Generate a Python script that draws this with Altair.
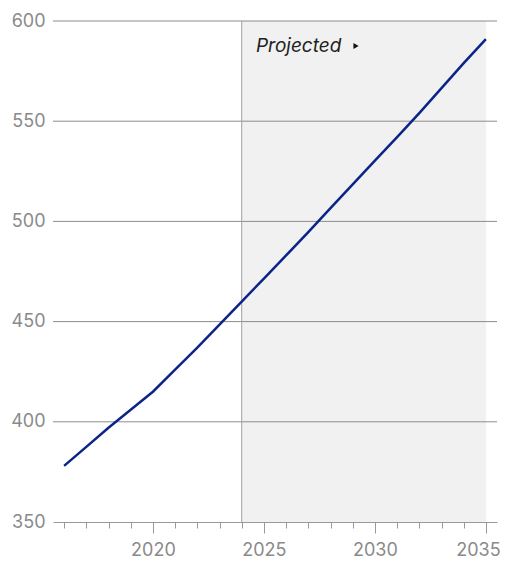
import altair as alt
import pandas as pd

years = list(range(2016, 2036))
values = [378, 387.5, 397, 406, 415, 426, 437, 448.5, 460, 471.5, 483, 494.7,
          506.6, 518.5, 530.3, 542, 554, 566.5, 579, 591]
y_ticks = [350, 400, 450, 500, 550, 600]
proj_start, proj_end = 2024, 2035

df = pd.DataFrame({"year": years, "value": values})
shade = pd.DataFrame({"x": [proj_start], "x2": [proj_end], "y": [350], "y2": [600]})
grid = pd.DataFrame({"v": y_ticks[1:]})
vline = pd.DataFrame({"x": [proj_start], "y": [350], "y2": [600]})
label = pd.DataFrame({"x": [2024.64], "y": [587.5], "t": ["Projected"]})
tri = pd.DataFrame({"x": [2029.15], "y": [587.5]})

FONT = "Inter"
xscale = alt.Scale(domain=[2015.5, 2035.5], nice=False, zero=False)
yscale = alt.Scale(domain=[350, 600], nice=False, zero=False)

xaxis = alt.Axis(
    values=years, title=None, grid=False, domainColor="#999999", domainWidth=1,
    tickColor="#999999", tickWidth=1,
    tickSize={"condition": {"test": "datum.value % 5 === 0", "value": 11}, "value": 6},
    labelExpr="datum.value % 5 === 0 ? toString(datum.value) : ''",
    labelOffset={"condition": {"test": "datum.value === 2035", "value": -8}, "value": 0},
    labelFont=FONT, labelFontSize=18, labelFontWeight=400, labelColor="#8a8a8a",
    labelPadding=8, labelFlush=False, labelOverlap=False, labelBound=False,
    labelBaseline="top",
)
yaxis = alt.Axis(
    values=y_ticks, title=None, grid=False, domain=False, ticks=False,
    labelFont=FONT, labelFontSize=18, labelFontWeight=400, labelColor="#8a8a8a",
    labelPadding=8, labelOverlap=False,
)


def X(f):
    return alt.X(f, scale=xscale, axis=xaxis)


def Y(f):
    return alt.Y(f, scale=yscale, axis=yaxis)


base_rect = alt.Chart(shade).mark_rect(color="#f1f1f1").encode(
    x=X("x:Q"), x2="x2", y=Y("y:Q"), y2="y2",
)
grid_rules = alt.Chart(grid).mark_rule(color="#8c8c8c", strokeWidth=1).encode(
    y=Y("v:Q"),
)
v_rule = alt.Chart(vline).mark_rule(color="#a0a0a0", strokeWidth=1).encode(
    x=X("x:Q"), y=Y("y:Q"), y2="y2",
)
line = alt.Chart(df).mark_line(color="#0c2488", strokeWidth=2.5).encode(
    x=X("year:Q"), y=Y("value:Q"),
)
txt = alt.Chart(label).mark_text(
    font=FONT, fontSize=19, fontStyle="italic", color="#222222", align="left", baseline="middle"
).encode(x=X("x:Q"), y=Y("y:Q"), text="t:N")
arrow = alt.Chart(tri).mark_point(
    shape="triangle-right", filled=True, color="#111111", size=36, opacity=1
).encode(x=X("x:Q"), y=Y("y:Q"))

chart = alt.layer(base_rect, grid_rules, v_rule, line, txt, arrow).properties(
    width=444, height=501,
    autosize=alt.AutoSizeParams(type="none"),
    padding={"left": 45, "top": 13, "right": 4, "bottom": 38},
).configure_view(stroke=None)

chart.save("out.html", embed_options={"renderer": "svg", "actions": False})
